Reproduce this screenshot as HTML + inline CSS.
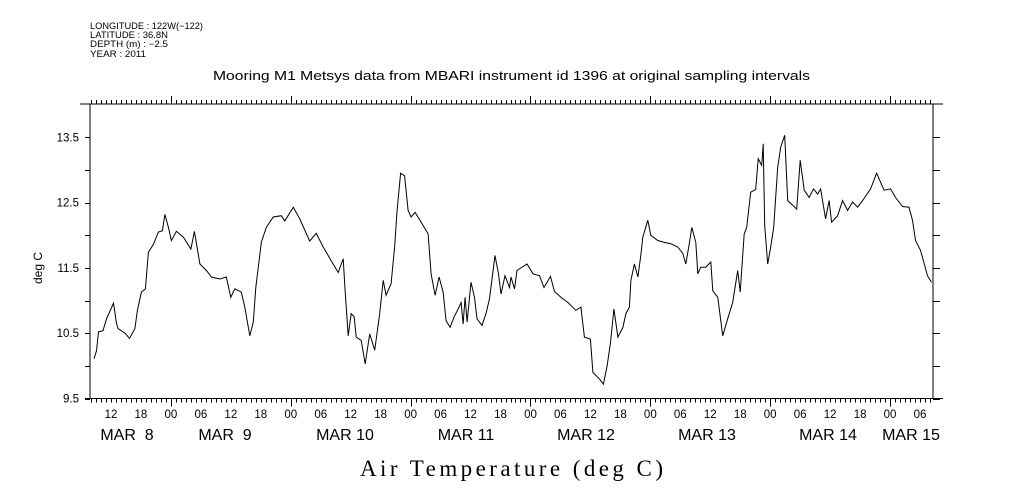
<!DOCTYPE html>
<html><head><meta charset="utf-8"><style>
html,body{margin:0;padding:0;background:#fff;}
svg{display:block;font-family:"Liberation Sans",sans-serif;}
</style></head><body>
<svg id="chart" width="1009" height="504" viewBox="0 0 1009 504" xmlns="http://www.w3.org/2000/svg">
<g font-size="9" fill="#000">
<text x="90" y="29" textLength="113" lengthAdjust="spacingAndGlyphs">LONGITUDE : 122W(−122)</text>
<text x="90" y="38" textLength="78" lengthAdjust="spacingAndGlyphs">LATITUDE : 36.8N</text>
<text x="90" y="47" textLength="78" lengthAdjust="spacingAndGlyphs">DEPTH (m) : −2.5</text>
<text x="90" y="57" textLength="56" lengthAdjust="spacingAndGlyphs">YEAR : 2011</text>
</g>
<text x="213" y="80" textLength="597" lengthAdjust="spacingAndGlyphs" font-size="12.5">Mooring M1 Metsys data from MBARI instrument id 1396 at original sampling intervals</text>
<text x="360" y="476" textLength="303" lengthAdjust="spacing" font-family="'Liberation Serif',serif" font-size="23">Air Temperature (deg C)</text>
<text transform="translate(42,268) rotate(-90)" text-anchor="middle" font-size="12">deg C</text>
<g id="axes"></g>
<path id="series" fill="none" stroke="#000" stroke-width="1"/>
</svg>
<script>
// hours since MAR 8 00:00
const times=[-15.4,-14.9,-14.5,-13.6,-12.9,-11.5,-10.9,-10.6,-9.2,-8.3,-7.2,-6.7,-5.9,-5.1,-4.5,-3.5,-2.5,-1.7,-1.2,-0.5,0.1,1.1,2.5,4,4.7,5.8,7.1,8.1,9.8,11.1,12,12.8,14.1,14.8,15.8,16.5,17,17.5,18.1,19.1,20.5,22.1,22.8,24.5,25.8,26.1,27.8,29.1,30.5,32.1,33.5,34.5,34.9,35.5,36.1,36.7,37.1,38.1,38.9,39.8,40.8,41.8,42.5,43.1,44.1,44.8,45.3,46,46.8,47.5,48.1,48.9,50.5,51.5,52.1,52.9,53.7,54.5,55.1,55.9,56.7,57.5,58.1,58.5,58.9,59.3,60.1,60.8,61.3,62.3,63.1,63.8,64.3,64.9,65.6,66.1,66.9,67.8,68.1,68.8,69.3,71.3,72.5,73.8,74.7,76,76.8,78.1,79.5,81.1,82.1,82.8,84,84.5,85.8,86.6,87.3,88,88.7,89.5,90.5,91.1,91.8,92.1,92.8,93.5,94.1,94.5,95.5,96.1,97.5,98.8,100.1,101.5,102.5,103.1,103.8,104.3,105.1,105.5,106.1,107.1,108.1,108.5,109.5,110.5,111.5,112.5,113.5,114,114.8,115.3,116.1,117.1,117.6,118.3,118.6,118.9,119.5,120.1,120.7,121.5,122.1,122.9,123.5,124.5,125.3,126,126.8,127.8,128.7,129.5,130.1,131.1,131.8,132.3,133.5,134.5,135.5,136.5,137.5,138.5,140.1,141.3,142.8,144.1,145.1,146.5,147.8,148.5,149.1,150.1,151.5,152.3];
const temps=[10.11,10.23,10.52,10.54,10.72,10.96,10.65,10.57,10.5,10.42,10.57,10.85,11.13,11.18,11.74,11.86,12.05,12.07,12.32,12.12,11.92,12.06,11.97,11.79,12.06,11.56,11.46,11.36,11.33,11.36,11.05,11.18,11.13,10.9,10.46,10.67,11.2,11.51,11.89,12.12,12.28,12.3,12.22,12.43,12.25,12.2,11.91,12.03,11.82,11.61,11.43,11.64,11.13,10.46,10.8,10.75,10.44,10.39,10.03,10.49,10.24,10.8,11.31,11.08,11.26,11.82,12.38,12.95,12.91,12.38,12.28,12.35,12.15,12.02,11.41,11.08,11.36,11.13,10.69,10.59,10.75,10.87,10.97,10.64,11.05,10.67,11.28,11.05,10.72,10.62,10.8,11.03,11.33,11.69,11.41,11.1,11.38,11.2,11.36,11.18,11.46,11.56,11.41,11.38,11.2,11.37,11.14,11.05,10.97,10.85,10.9,10.44,10.41,9.9,9.8,9.72,9.98,10.34,10.87,10.44,10.59,10.8,10.9,11.31,11.56,11.36,11.69,11.97,12.23,12.0,11.92,11.89,11.87,11.82,11.72,11.56,11.87,12.12,11.89,11.41,11.51,11.51,11.59,11.15,11.05,10.46,10.72,10.97,11.46,11.13,12.02,12.12,12.66,12.7,13.17,13.07,13.4,12.15,11.56,11.82,12.12,13.04,13.35,13.53,12.53,12.46,12.4,13.15,12.69,12.58,12.71,12.63,12.71,12.25,12.53,12.2,12.3,12.53,12.38,12.51,12.43,12.53,12.71,12.95,12.69,12.71,12.58,12.44,12.43,12.23,11.92,11.77,11.38,11.28];
const yTickLabels=["9.5","10.5","11.5","12.5","13.5"];
const hourLabels=["12","18","00","06","12","18","00","06","12","18","00","06","12","18","00","06","12","18","00","06","12","18","00","06","12","18","00","06"];
const dayLabels=["MAR  8","MAR  9","MAR 10","MAR 11","MAR 12","MAR 13","MAR 14","MAR 15"];
const dayLabelX=[127,225,345,466,586,707,828,911];
const X0=90,X1=933,Y0=104,Y1=398.5;
const tMin=-16.2,tMax=152.6,vMin=9.5,vMax=13.5,vTop=9.5+(398.5-104)/65.3;
function xs(t){return X0+(t-tMin)/(tMax-tMin)*(X1-X0);}
function ys(v){return Y1-(v-vMin)/(vTop-vMin)*(Y1-Y0);}
const NS="http://www.w3.org/2000/svg";
const ax=document.getElementById('axes');
function el(tag,attrs,parent){const e=document.createElementNS(NS,tag);for(const k in attrs)e.setAttribute(k,attrs[k]);(parent||ax).appendChild(e);return e;}
let d="";
d+=`M${X0} ${Y0}V${Y1}M${X1} ${Y0}V${Y1}M80 ${Y0}H943M85 ${Y1}H943`;
for(let h=Math.ceil(tMin);h<=tMax;h++){
  const x=Math.round(xs(h))+0.5;
  const big=(((h%24)+24)%24===0);
  d+=`M${x} ${Y0}V${Y0-(big?8:4)}M${x} ${Y1}V${Y1+(big?8:4)}`;
}
for(let v=9.5;v<=13.51;v+=0.5){
  const y=Math.round(ys(v))+0.5;
  d+=`M${X0-5} ${y}H${X0}M${X1} ${y}H${X1+7}`;
}
const p=el('path',{d:d,stroke:'#000','stroke-width':1,fill:'none'});


yTickLabels.forEach(function(s){
  const t=el('text',{x:79,y:ys(parseFloat(s))+4,'text-anchor':'end','font-size':11.5});
  t.textContent=s;
  
  
});
hourLabels.forEach(function(s,i){
  const h=-12+6*i;
  const t=el('text',{x:xs(h),y:418,'text-anchor':'middle','font-size':11.5});
  t.textContent=s;
  
  
});
dayLabels.forEach(function(s,i){
  const t=el('text',{x:dayLabelX[i],y:440,'text-anchor':'middle','font-size':16});
  t.style.whiteSpace='pre';
  t.textContent=s;
  
  
});
let ld="";
times.forEach(function(t,i){ld+=(i?"L":"M")+xs(t).toFixed(1)+" "+ys(temps[i]).toFixed(1);});
document.getElementById('series').setAttribute('d',ld);
</script>
</body></html>
